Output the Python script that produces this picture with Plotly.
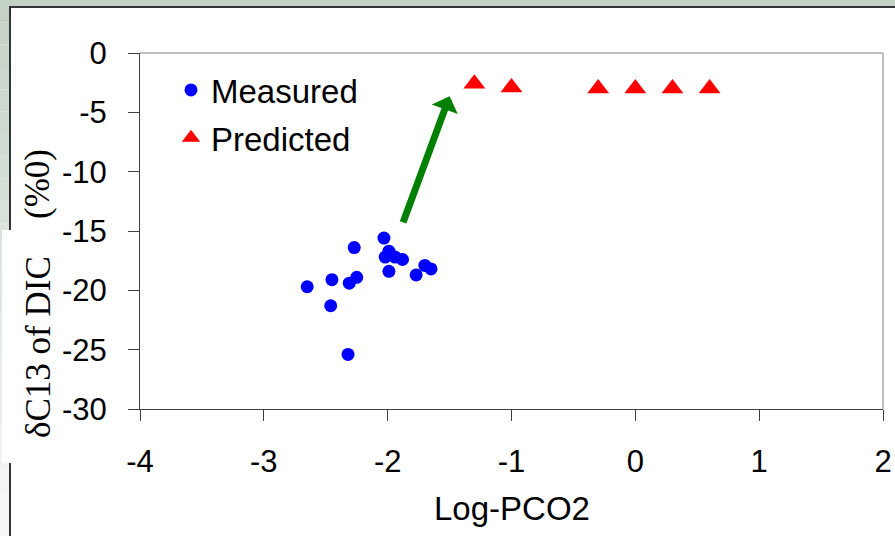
import plotly.graph_objects as go

# ---- data ----
measured_x = [-2.65, -2.46, -2.45, -2.32, -2.31, -2.25, -2.27, -2.03, -1.99, -2.02, -1.94, -1.88, -1.99, -1.77, -1.70, -1.65]
measured_y = [-19.7, -21.3, -19.1, -25.4, -19.4, -18.9, -16.4, -15.6, -16.7, -17.2, -17.2, -17.4, -18.4, -18.7, -17.9, -18.2]
predicted_x = [-1.3, -1.0, -0.3, 0.0, 0.3, 0.6]
predicted_y = [-2.6, -2.9, -3.0, -3.0, -3.0, -3.0]
x_ticks = [-4, -3, -2, -1, 0, 1, 2]
x_tick_labels = ["-4", "-3", "-2", "-1", "0", "1", "2"]
y_ticks = [-30, -25, -20, -15, -10, -5, 0]
y_tick_labels = ["-30", "-25", "-20", "-15", "-10", "-5", "0"]
arrow_tail = (-1.88, -14.4)
arrow_head = (-1.50, -3.65)

W, H = 895, 536
L, R, T, B = 140, 12, 53, 127
PW, PH = W - L - R, H - T - B


def px(x):
    return (x - L) / PW


def py(y):
    return (H - B - y) / PH


fig = go.Figure()
fig.add_trace(go.Scatter(x=measured_x, y=measured_y, mode="markers", name="Measured",
                         legendgroup="a",
                         marker=dict(symbol="circle", size=13, color="#0000ff")))
fig.add_trace(go.Scatter(x=predicted_x, y=predicted_y, mode="markers", name="Predicted",
                         legendgroup="b",
                         marker=dict(symbol="triangle-up", size=19, color="#ff0000")))

shapes = []
# background gradient strips (top and left)
top_c = (195, 210, 197)
bot_c = (247, 248, 247)
N = 24
for i in range(N):
    t = i / (N - 1)
    c = tuple(round(top_c[k] + (bot_c[k] - top_c[k]) * t) for k in range(3))
    y0 = H * i / N
    y1 = H * (i + 1) / N
    shapes.append(dict(type="rect", xref="paper", yref="paper", layer="below",
                       x0=px(0), x1=px(10), y0=py(y1), y1=py(y0),
                       fillcolor="rgb(%d,%d,%d)" % c, line=dict(width=0)))
shapes.append(dict(type="rect", xref="paper", yref="paper", layer="below",
                   x0=px(0), x1=px(W), y0=py(7), y1=py(0),
                   fillcolor="rgb(%d,%d,%d)" % top_c, line=dict(width=0)))
# panel border
shapes.append(dict(type="line", xref="paper", yref="paper", layer="below",
                   x0=px(10), x1=px(W + 2), y0=py(7), y1=py(7),
                   line=dict(color="#333333", width=2)))
shapes.append(dict(type="line", xref="paper", yref="paper", layer="below",
                   x0=px(10), x1=px(10), y0=py(6), y1=py(H + 2),
                   line=dict(color="#333333", width=2)))
# white box behind y title
shapes.append(dict(type="rect", xref="paper", yref="paper", layer="below",
                   x0=px(2), x1=px(66), y0=py(463), y1=py(230),
                   fillcolor="white", line=dict(width=0)))
# plot-area top and right borders
shapes.append(dict(type="line", xref="paper", yref="paper", x0=0, x1=1, y0=1, y1=1,
                   line=dict(color="#808080", width=1)))
shapes.append(dict(type="line", xref="paper", yref="paper", x0=1, x1=1, y0=0, y1=1,
                   line=dict(color="#808080", width=1)))

annotations = [
    dict(x=arrow_head[0], y=arrow_head[1], ax=arrow_tail[0], ay=arrow_tail[1],
         xref="x", yref="y", axref="x", ayref="y", text="", showarrow=True,
         arrowhead=1, arrowsize=0.66, arrowwidth=7, arrowcolor="#008000"),
    dict(text="Log-PCO2", xref="paper", yref="paper", x=px(511.5), y=py(508),
         xanchor="center", yanchor="middle", showarrow=False,
         font=dict(family="Liberation Sans, Arial", size=33, color="black")),
    dict(text="δC13 of DIC", xref="paper", yref="paper", x=px(38), y=py(347),
         xanchor="center", yanchor="middle", showarrow=False, textangle=-90,
         font=dict(family="Liberation Serif, Times New Roman", size=35, color="black")),
    dict(text="(%0)", xref="paper", yref="paper", x=px(38), y=py(184),
         xanchor="center", yanchor="middle", showarrow=False, textangle=-90,
         font=dict(family="Liberation Serif, Times New Roman", size=35, color="black")),
]

axis_font = dict(family="Liberation Sans, Arial", size=31, color="black")
fig.update_layout(
    width=W, height=H,
    margin=dict(l=L, r=R, t=T, b=B, pad=0, autoexpand=False),
    paper_bgcolor="white", plot_bgcolor="rgba(0,0,0,0)",
    shapes=shapes, annotations=annotations,
    showlegend=True,
    legend=dict(x=px(171), y=py(62), xanchor="left", yanchor="top",
                bgcolor="rgba(0,0,0,0)", traceorder="grouped", tracegroupgap=2,
                font=dict(family="Liberation Sans, Arial", size=33, color="black")),
    xaxis=dict(range=[-4, 2], tickvals=x_ticks, ticktext=x_tick_labels,
               showgrid=False, zeroline=False, showline=True, linecolor="#404040",
               linewidth=1, ticks="outside", ticklen=11, tickcolor="#404040",
               tickfont=axis_font, ticklabelstandoff=14, automargin=False),
    yaxis=dict(range=[-30, 0], tickvals=y_ticks, ticktext=y_tick_labels,
               showgrid=False, zeroline=False, showline=True, linecolor="#404040",
               linewidth=1, ticks="outside", ticklen=11, tickcolor="#404040",
               tickfont=axis_font, ticklabelstandoff=15, automargin=False),
)

fig.write_html("out.html")
